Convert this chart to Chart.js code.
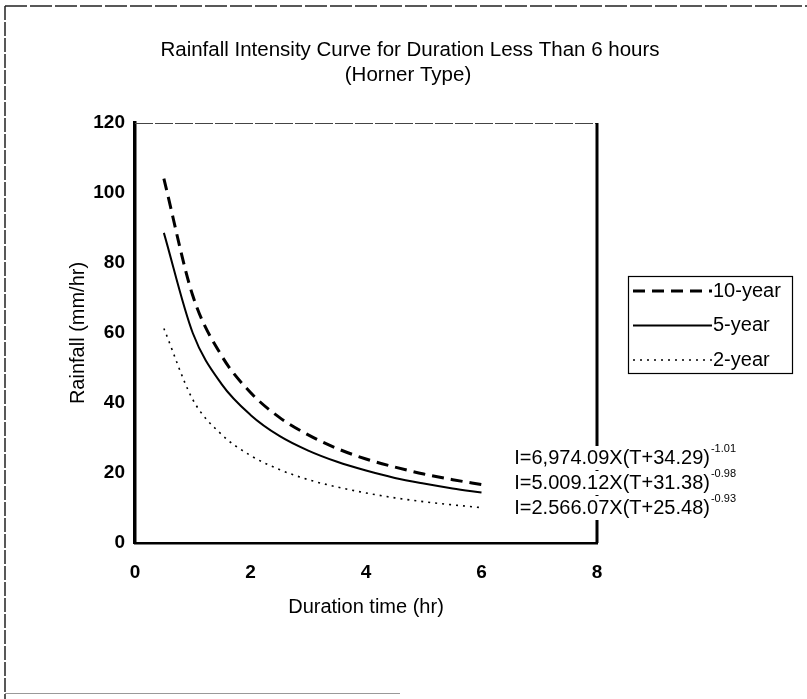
<!DOCTYPE html>
<html>
<head>
<meta charset="utf-8">
<script src="https://cdn.jsdelivr.net/npm/chart.js@4.4.1/dist/chart.umd.min.js"></script>
<style>
  html, body { margin: 0; padding: 0; background: #fff; }
  #wrap { width: 807px; height: 699px; position: relative; }
</style>
</head>
<body>
<div id="wrap"><canvas id="chart" width="807" height="699"></canvas></div>
<script>
// duration (hr)
const durations = [0.5, 1, 1.5, 2, 2.5, 3, 3.5, 4, 4.5, 5, 5.5, 6];

// rainfall intensity (mm/hr)
const year10 = [104.1, 70.7, 53.5, 43.0, 35.9, 30.9, 27.0, 24.0, 21.7, 19.7, 18.1, 16.7];
const year5  = [88.6, 60.0, 45.4, 36.6, 30.6, 26.4, 23.2, 20.7, 18.6, 17.0, 15.6, 14.4];
const year2  = [61.3, 41.0, 31.0, 25.0, 21.0, 18.1, 16.0, 14.3, 12.9, 11.8, 10.9, 10.1];

const seriesNames = ['10-year', '5-year', '2-year'];
const equations = [
    ['I=6,974.09X(T+34.29)', '-1.01'],
    ['I=5.009.12X(T+31.38)', '-0.98'],
    ['I=2.566.07X(T+25.48)', '-0.93']
];
const titleLines = ['Rainfall Intensity Curve for Duration Less Than 6 hours', '(Horner Type)'];

const FONT = '"Liberation Sans", Arial, sans-serif';

const toPoints = (vals) => vals.map((v, i) => ({ x: durations[i], y: v }));

// Extra drawing: frame, title, legend box, equations
const extras = {
    id: 'extras',
    afterDraw(chart) {
        const ctx = chart.ctx;
        const area = chart.chartArea;
        ctx.save();

        // page frame
        ctx.strokeStyle = '#222';
        ctx.lineWidth = 1.5;
        ctx.setLineDash([22, 3]);
        ctx.beginPath();
        ctx.moveTo(5, 6); ctx.lineTo(807, 6);
        ctx.stroke();
        ctx.setLineDash([14, 2]);
        ctx.beginPath();
        ctx.moveTo(5, 6); ctx.lineTo(5, 699);
        ctx.stroke();
        ctx.setLineDash([]);
        ctx.strokeStyle = '#999';
        ctx.lineWidth = 1;
        ctx.beginPath();
        ctx.moveTo(5, 693.5); ctx.lineTo(400, 693.5);
        ctx.stroke();

        // plot frame top and right
        ctx.strokeStyle = '#444';
        ctx.lineWidth = 1;
        ctx.setLineDash([18, 2]);
        ctx.beginPath();
        ctx.moveTo(area.left, area.top + 0.5); ctx.lineTo(area.right, area.top + 0.5);
        ctx.stroke();
        ctx.setLineDash([]);
        ctx.strokeStyle = '#000';
        ctx.lineWidth = 3;
        ctx.beginPath();
        ctx.moveTo(area.right, area.top); ctx.lineTo(area.right, area.bottom);
        ctx.stroke();

        // title
        ctx.fillStyle = '#000';
        ctx.textAlign = 'center';
        ctx.textBaseline = 'middle';
        ctx.font = '20.5px ' + FONT;
        ctx.fillText(titleLines[0], 410, 50);
        ctx.fillText(titleLines[1], 408, 75);

        // legend box
        const lx = 628, ly = 276, lw = 164, lh = 97;
        ctx.lineWidth = 1.2;
        ctx.strokeStyle = '#000';
        ctx.strokeRect(lx + 0.5, ly + 0.5, lw, lh);
        ctx.font = '20px ' + FONT;
        ctx.textAlign = 'left';
        chart.data.datasets.forEach((ds, i) => {
            const y = ly + 15 + i * 34.5;
            ctx.strokeStyle = '#000';
            ctx.lineWidth = ds.borderWidth;
            ctx.setLineDash(ds.borderDash || []);
            ctx.beginPath();
            ctx.moveTo(lx + 5, y); ctx.lineTo(lx + 84, y);
            ctx.stroke();
            ctx.setLineDash([]);
            ctx.fillText(ds.label, lx + 85, y);
        });

        // equations
        const ex = 736;
        equations.forEach((eq, i) => {
            const y = 458 + i * 25;
            ctx.font = '11px ' + FONT;
            const supW = ctx.measureText(eq[1]).width;
            ctx.font = '20px ' + FONT;
            const mainW = ctx.measureText(eq[0]).width;
            const x0 = ex - supW - mainW - 1;
            ctx.fillStyle = '#fff';
            ctx.fillRect(x0 - 2, y - 12, mainW + supW + 5, 24);
            ctx.fillStyle = '#000';
            ctx.textAlign = 'left';
            ctx.fillText(eq[0], x0, y);
            ctx.font = '11px ' + FONT;
            ctx.fillText(eq[1], x0 + mainW + 1, y - 9);
        });

        ctx.restore();
    }
};

const ctx = document.getElementById('chart').getContext('2d');
new Chart(ctx, {
    type: 'line',
    data: {
        datasets: [
            {
                label: seriesNames[0],
                data: toPoints(year10),
                borderColor: '#000',
                borderWidth: 3,
                borderDash: [12, 7],
                pointRadius: 0,
                cubicInterpolationMode: 'monotone',
                fill: false
            },
            {
                label: seriesNames[1],
                data: toPoints(year5),
                borderColor: '#000',
                borderWidth: 2,
                pointRadius: 0,
                cubicInterpolationMode: 'monotone',
                fill: false
            },
            {
                label: seriesNames[2],
                data: toPoints(year2),
                borderColor: '#000',
                borderWidth: 1.6,
                borderDash: [2, 5],
                pointRadius: 0,
                cubicInterpolationMode: 'monotone',
                fill: false
            }
        ]
    },
    options: {
        responsive: false,
        animation: false,
        layout: {
            padding: { left: 60, right: 210, top: 123, bottom: 76 }
        },
        plugins: {
            legend: { display: false },
            title: { display: false },
            tooltip: { enabled: false }
        },
        scales: {
            x: {
                type: 'linear',
                min: 0,
                max: 8,
                ticks: {
                    stepSize: 2,
                    padding: 18,
                    color: '#000',
                    font: { family: FONT, size: 19, weight: 'bold' }
                },
                grid: { display: false, drawTicks: false },
                border: { display: true, color: '#000', width: 2.5 },
                title: {
                    display: true,
                    text: 'Duration time (hr)',
                    color: '#000',
                    font: { family: FONT, size: 20 },
                    padding: { top: 0, bottom: 4 }
                },
                afterFit: (scale) => { scale.height = 80; }
            },
            y: {
                min: 0,
                max: 120,
                ticks: {
                    stepSize: 20,
                    padding: 10,
                    color: '#000',
                    font: { family: FONT, size: 19, weight: 'bold' }
                },
                grid: { display: false, drawTicks: false },
                border: { display: true, color: '#000', width: 3.5 },
                title: {
                    display: true,
                    text: 'Rainfall (mm/hr)',
                    color: '#000',
                    font: { family: FONT, size: 20 },
                    padding: { top: 6, bottom: 0 }
                },
                afterFit: (scale) => { scale.width = 75; }
            }
        }
    },
    plugins: [extras]
});
</script>
</body>
</html>
